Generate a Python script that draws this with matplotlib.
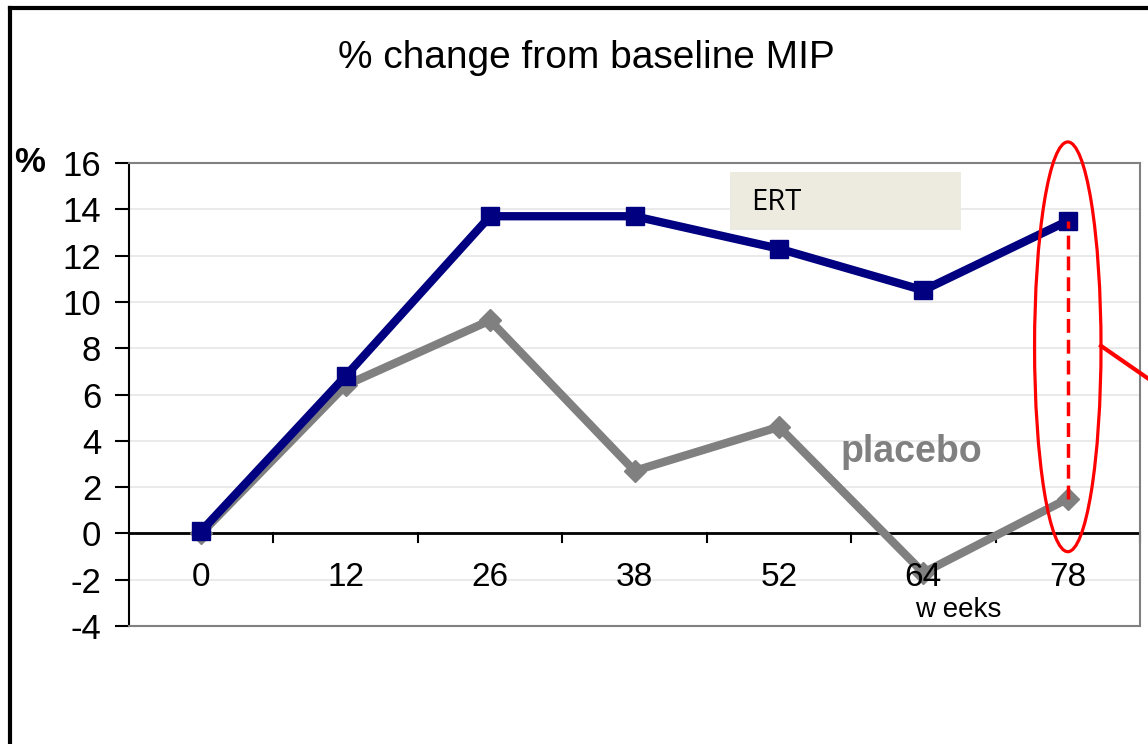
import matplotlib.pyplot as plt
from matplotlib.patches import Ellipse, Rectangle
from matplotlib.lines import Line2D

weeks = ["0", "12", "26", "38", "52", "64", "78"]
ert = [0.1, 6.8, 13.7, 13.7, 12.3, 10.5, 13.5]
placebo = [0.0, 6.4, 9.2, 2.7, 4.6, -1.7, 1.5]
y_ticks = list(range(-4, 17, 2))

plt.rcParams['font.family'] = ['Liberation Sans', 'DejaVu Sans']

fig = plt.figure(figsize=(11.48, 7.44), dpi=100)
W, H = 1148, 744
ax = fig.add_axes([129 / W, 1 - 626 / H, (1140 - 129) / W, (626 - 163) / H])

x = list(range(len(weeks)))
ax.set_xlim(-0.5, len(weeks) - 0.5)
ax.set_ylim(-4, 16)

for yv in y_ticks:
    ax.axhline(yv, color='#e6e6e6', lw=1.2, zorder=0)

ax.plot(x, placebo, color='#808080', lw=6, marker='D', ms=11, zorder=3)
ax.plot(x, ert, color='#000080', lw=6, marker='s', ms=12.5, zorder=4)

# dashed gap between the two arms at the last visit
ax.plot([x[-1], x[-1]], [placebo[-1], ert[-1]], color='red', lw=2.5,
        ls=(0, (4, 2)), zorder=5)
ax.add_patch(Ellipse((x[-1], 8.06), 0.46, 17.7, fill=False, ec='red', lw=2.3,
                     clip_on=False, zorder=6))
ax.add_line(Line2D([x[-1] + 0.23, x[-1] + 0.6], [8.1, 6.5], color='red',
                   lw=3, clip_on=False, zorder=6))

# frame
for s in ['top', 'right', 'bottom']:
    ax.spines[s].set_color('#808080')
    ax.spines[s].set_linewidth(1.5)
ax.spines['left'].set_color('black')
ax.spines['left'].set_linewidth(1.5)
ax.axhline(0, color='black', lw=2, zorder=2)

ax.set_yticks(y_ticks)
ax.set_yticklabels([str(v) for v in y_ticks])
ax.tick_params(axis='y', labelsize=25, length=10, width=1.5, pad=10)
ax.set_xticks([])
for i in range(len(weeks)):
    ax.plot([i + 0.5, i + 0.5], [0, -0.38], color='black', lw=1.5,
            clip_on=False, zorder=2)
    ax.text(i, -1.9, weeks[i], ha='center', va='center', fontsize=24)

ax.text(5.24, -3.3, "w eeks", ha='center', va='center', fontsize=20)

ax.add_patch(Rectangle((3.66, 13.1), 1.6, 2.5, fc='#edebe0', ec='none', zorder=1))
ax.text(3.81, 14.3, "ERT", ha='left', va='center', fontsize=21,
        family=['Open Sans', 'DejaVu Sans'])
ax.text(4.92, 3.5, "placebo", ha='center', va='center', fontsize=27,
        fontweight='bold', color='#808080')

fig.text(586 / W, 1 - 58 / H, "% change from baseline MIP", ha='center',
         va='center', fontsize=28)
fig.text(30 / W, 1 - 163 / H, "%", ha='center', va='center', fontsize=25,
         fontweight='bold')

# outer box edges
fig.add_artist(Line2D([10 / W, 10 / W], [0, 1 - 8 / H], color='black', lw=3,
                      transform=fig.transFigure))
fig.add_artist(Line2D([10 / W, 1], [1 - 8 / H, 1 - 8 / H], color='black', lw=3,
                      transform=fig.transFigure))

fig.savefig('out.png', dpi=100)
